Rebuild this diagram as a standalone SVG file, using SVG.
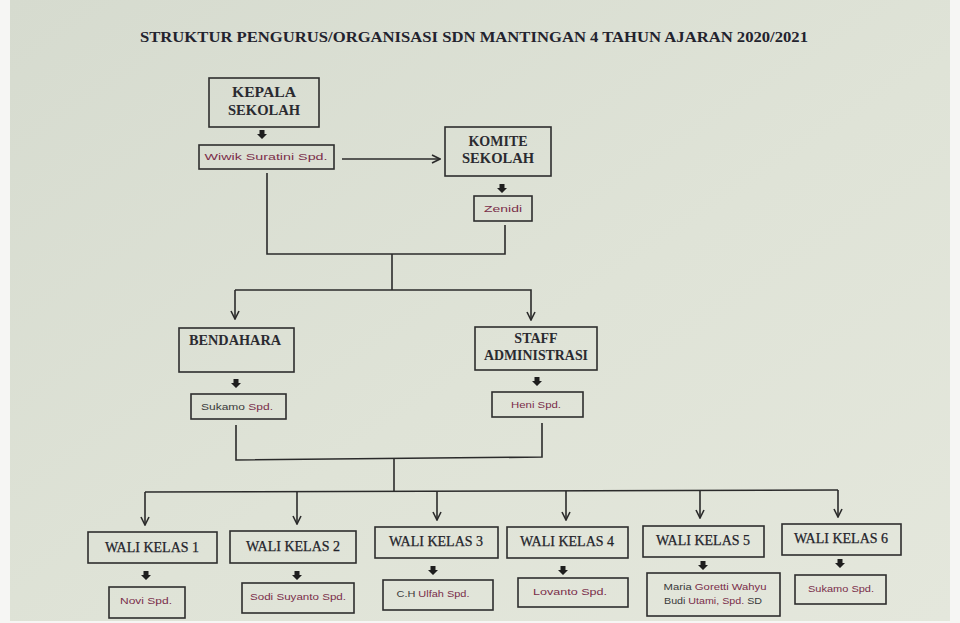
<svg xmlns="http://www.w3.org/2000/svg" width="960" height="623" viewBox="0 0 960 623">
  <defs>
    <linearGradient id="bg" x1="0" y1="0" x2="1" y2="1">
      <stop offset="0" stop-color="#d6dbcf"/>
      <stop offset="0.55" stop-color="#dfe3d7"/>
      <stop offset="1" stop-color="#e4e7dc"/>
    </linearGradient>
    <marker id="arr" viewBox="0 0 10 10" refX="9" refY="5" markerWidth="10" markerHeight="10" markerUnits="userSpaceOnUse" orient="auto">
      <polyline points="1,1 9,5 1,9" fill="none" stroke="#2b2b2b" stroke-width="1.6"/>
    </marker>
    <symbol id="dn" viewBox="0 0 10 10" overflow="visible">
      <polygon points="-2.5,-4 2.5,-4 2.5,0 5,0 0,5 -5,0 -2.5,0" fill="#1e1e1e"/>
    </symbol>
  </defs>
  <style>
    .box{fill:none;stroke:#2e2e2e;stroke-width:1.6}
    .con{fill:none;stroke:#2b2b2b;stroke-width:1.6}
    .hd{font-family:"Liberation Serif",serif;font-weight:bold;font-size:14px;fill:#2a2a30;text-anchor:middle}
    .wk{font-family:"Liberation Serif",serif;font-size:14px;fill:#23232a;text-anchor:middle;stroke:#23232a;stroke-width:0.25}
    .nm{font-family:"Liberation Sans",sans-serif;font-size:9px;fill:#3a3a3a;text-anchor:middle}
    .rd{fill:#7a2e4a}
    .title{font-family:"Liberation Serif",serif;font-weight:bold;font-size:14.5px;fill:#23232e;text-anchor:middle}
  </style>
  <rect x="0" y="0" width="960" height="623" fill="#f6f6f4"/>
  <rect x="10" y="0" width="940" height="621" fill="url(#bg)"/>

  <text class="title" x="474" y="42" textLength="668" lengthAdjust="spacingAndGlyphs">STRUKTUR PENGURUS/ORGANISASI SDN MANTINGAN 4 TAHUN AJARAN 2020/2021</text>

  <g id="connectors">
    <line class="con" x1="342" y1="159" x2="440" y2="159" marker-end="url(#arr)"/>
    <polyline class="con" points="267,173 267,254 505,254 505,225"/>
    <line class="con" x1="392" y1="254" x2="392" y2="290"/>
    <polyline class="con" points="235,290 531,290 531,320" marker-end="url(#arr)"/>
    <line class="con" x1="235" y1="290" x2="235" y2="319" marker-end="url(#arr)"/>
    <polyline class="con" points="236,425 236,460 542,457 542,423"/>
    <line class="con" x1="394" y1="459" x2="394" y2="492"/>
    <line class="con" x1="145" y1="492" x2="838" y2="490"/>
    <line class="con" x1="145" y1="492" x2="145" y2="525" marker-end="url(#arr)"/>
    <line class="con" x1="297" y1="492" x2="297" y2="524" marker-end="url(#arr)"/>
    <line class="con" x1="437" y1="491" x2="437" y2="520" marker-end="url(#arr)"/>
    <line class="con" x1="566" y1="491" x2="566" y2="520" marker-end="url(#arr)"/>
    <line class="con" x1="700" y1="491" x2="700" y2="518" marker-end="url(#arr)"/>
    <line class="con" x1="838" y1="490" x2="838" y2="517" marker-end="url(#arr)"/>
  </g>

  <g id="kepala">
    <rect class="box" x="209" y="78" width="110" height="49"/>
    <text class="hd" x="264" y="97" textLength="64" lengthAdjust="spacingAndGlyphs">KEPALA</text>
    <text class="hd" x="264" y="115" textLength="72" lengthAdjust="spacingAndGlyphs">SEKOLAH</text>
    <use href="#dn" x="262" y="134" width="10" height="10"/>
  </g>
  <g id="kepala-name">
    <rect class="box" x="199" y="145" width="135" height="24"/>
    <text class="nm rd" x="266" y="160" textLength="123" lengthAdjust="spacingAndGlyphs">Wiwik Suratini Spd.</text>
  </g>

  <g id="komite">
    <rect class="box" x="445" y="127" width="106" height="49"/>
    <text class="hd" x="498" y="146">KOMITE</text>
    <text class="hd" x="498" y="163" textLength="72" lengthAdjust="spacingAndGlyphs">SEKOLAH</text>
    <use href="#dn" x="502" y="188" width="10" height="10"/>
  </g>
  <g id="komite-name">
    <rect class="box" x="474" y="196" width="58" height="25"/>
    <text class="nm rd" x="503" y="212" textLength="38" lengthAdjust="spacingAndGlyphs">Zenidi</text>
  </g>

  <g id="bendahara">
    <rect class="box" x="179" y="328" width="115" height="44"/>
    <text class="hd" x="235" y="345" textLength="92" lengthAdjust="spacingAndGlyphs">BENDAHARA</text>
    <use href="#dn" x="236" y="383" width="10" height="10"/>
  </g>
  <g id="bendahara-name">
    <rect class="box" x="191" y="394" width="95" height="25"/>
    <text class="nm" x="237" y="410" textLength="72" lengthAdjust="spacingAndGlyphs">Sukamo <tspan class="rd">Spd.</tspan></text>
  </g>

  <g id="staff">
    <rect class="box" x="475" y="327" width="122" height="43"/>
    <text class="hd" x="536" y="343">STAFF</text>
    <text class="hd" x="536" y="360" textLength="104" lengthAdjust="spacingAndGlyphs">ADMINISTRASI</text>
    <use href="#dn" x="537" y="381" width="10" height="10"/>
  </g>
  <g id="staff-name">
    <rect class="box" x="492" y="392" width="91" height="25"/>
    <text class="nm rd" x="536" y="408" textLength="50" lengthAdjust="spacingAndGlyphs">Heni Spd.</text>
  </g>

  <g id="wk1">
    <rect class="box" x="88" y="532" width="129" height="31"/>
    <text class="wk" x="152" y="552">WALI KELAS 1</text>
    <use href="#dn" x="146" y="575" width="10" height="10"/>
    <rect class="box" x="109" y="587" width="76" height="31"/>
    <text class="nm rd" x="146" y="604" textLength="52" lengthAdjust="spacingAndGlyphs">Novi Spd.</text>
  </g>
  <g id="wk2">
    <rect class="box" x="230" y="531" width="126" height="32"/>
    <text class="wk" x="293" y="551">WALI KELAS 2</text>
    <use href="#dn" x="297" y="575" width="10" height="10"/>
    <rect class="box" x="242" y="583" width="112" height="30"/>
    <text class="nm rd" x="298" y="600" textLength="96" lengthAdjust="spacingAndGlyphs">Sodi Suyanto Spd.</text>
  </g>
  <g id="wk3">
    <rect class="box" x="375" y="527" width="123" height="31"/>
    <text class="wk" x="436" y="546">WALI KELAS 3</text>
    <use href="#dn" x="433" y="570" width="10" height="10"/>
    <rect class="box" x="383" y="580" width="110" height="30"/>
    <text class="nm" x="433" y="597" textLength="73" lengthAdjust="spacingAndGlyphs">C.H <tspan class="rd">Ulfah Spd.</tspan></text>
  </g>
  <g id="wk4">
    <rect class="box" x="507" y="527" width="121" height="31"/>
    <text class="wk" x="567" y="546">WALI KELAS 4</text>
    <use href="#dn" x="563" y="570" width="10" height="10"/>
    <rect class="box" x="518" y="578" width="110" height="29"/>
    <text class="nm rd" x="570" y="595" textLength="74" lengthAdjust="spacingAndGlyphs">Lovanto  Spd.</text>
  </g>
  <g id="wk5">
    <rect class="box" x="643" y="526" width="121" height="31"/>
    <text class="wk" x="703" y="545">WALI KELAS 5</text>
    <use href="#dn" x="703" y="565" width="10" height="10"/>
    <rect class="box" x="647" y="573" width="133" height="43"/>
    <text class="nm" x="715" y="590" textLength="103" lengthAdjust="spacingAndGlyphs">Maria <tspan class="rd">Goretti  Wahyu</tspan></text>
    <text class="nm" x="713" y="604" textLength="98" lengthAdjust="spacingAndGlyphs">Budi <tspan class="rd">Utami, Spd.</tspan> SD</text>
  </g>
  <g id="wk6">
    <rect class="box" x="782" y="524" width="119" height="31"/>
    <text class="wk" x="841" y="543">WALI KELAS 6</text>
    <use href="#dn" x="840" y="563" width="10" height="10"/>
    <rect class="box" x="795" y="575" width="91" height="29"/>
    <text class="nm rd" x="841" y="592" textLength="66" lengthAdjust="spacingAndGlyphs">Sukamo Spd.</text>
  </g>
</svg>
